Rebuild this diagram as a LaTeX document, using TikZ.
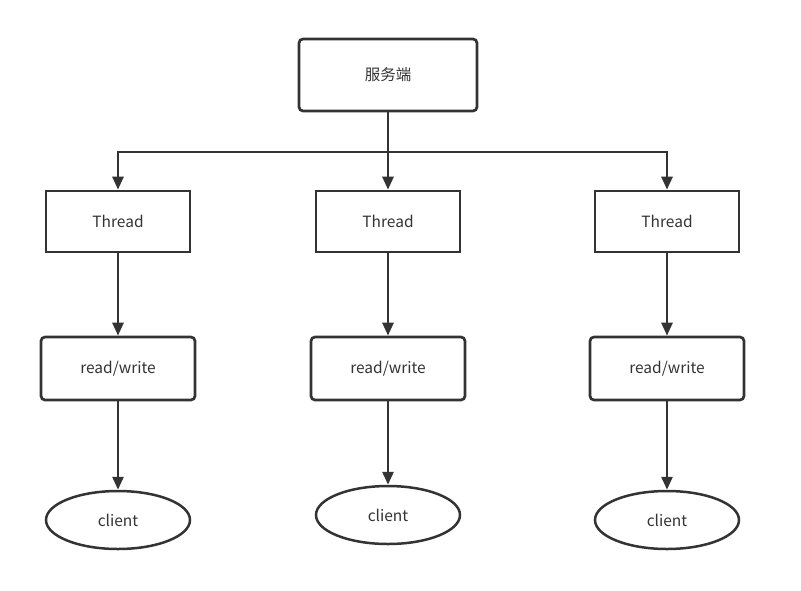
\documentclass[tikz,border=0pt]{standalone}
\usepackage{fontspec}
\setmainfont{Noto Sans CJK SC}
\usetikzlibrary{arrows.meta,shapes.geometric}
\definecolor{ln}{HTML}{333333}
\begin{document}
\begin{tikzpicture}[x=1pt,y=-1pt,
  box/.style={draw=ln,line width=2.7pt,minimum width=#1,inner sep=0pt,font=\fontsize{15.5}{18}\selectfont,text=ln},
  rbox/.style={box=#1,rounded corners=4pt},
  ell/.style={ellipse,draw=ln,line width=2.5pt,minimum width=144pt,minimum height=58pt,inner sep=0pt,font=\fontsize{15.5}{18}\selectfont,text=ln},
  conn/.style={draw=ln,line width=2.7pt,-{Triangle[length=13pt,width=11pt]}}]
\useasboundingbox (0,0) rectangle (801,590);
\node[rbox=178pt,minimum height=72pt] (srv) at (388,75) {服务端};
\foreach \i/\x/\cy in {1/118/520,2/388/515,3/667/520}{
  \node[box=144pt,minimum height=61pt] (t\i) at (\x,221.5) {Thread};
  \node[rbox=154pt,minimum height=63pt] (rw\i) at (\x,368.5) {read/write};
  \node[ell] (c\i) at (\x,\cy) {client};
  \draw[conn] (t\i) -- (rw\i);
  \draw[conn] (rw\i) -- (c\i);
}
\coordinate (j) at (388,152);
\draw[draw=ln,line width=2.7pt] (srv.south) -- (j);
\draw[conn] (j) -| (t1.north);
\draw[conn] (j) -| (t3.north);
\draw[conn] (j) -- (t2.north);
\end{tikzpicture}
\end{document}
